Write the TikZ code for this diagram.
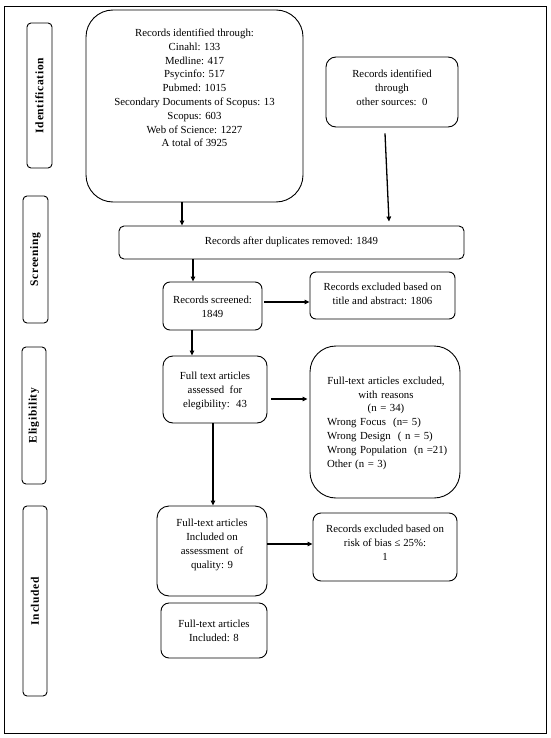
\documentclass[tikz,border=0pt]{standalone}
\usepackage{fontspec}
\setmainfont{Liberation Serif}
\usetikzlibrary{arrows.meta,calc}
\begin{document}
\begin{tikzpicture}[x=1pt,y=-1pt,
  box/.style={draw, line width=0.9pt, inner sep=0pt},
  txt/.style={font=\fontsize{10.8}{13.8}\selectfont, align=center, inner sep=0pt},
  arr/.style={-{Triangle[length=5pt,width=4.5pt]}, line width=1.3pt},
  side/.style={draw, line width=0.9pt, rounded corners=4pt, inner sep=0pt, rotate=90, font=\fontsize{11.5}{12}\selectfont\bfseries\addfontfeature{LetterSpace=6}}]
\useasboundingbox (0,0) rectangle (550,738);
\node[draw, line width=0.9pt, minimum width=542pt, minimum height=727pt, inner sep=0pt] (frame) at (275,369.5) {};
% side labels
\node[side, minimum width=145pt, minimum height=25pt] (sid) at (39.5,95.5) {Identification};
\node[side, minimum width=127pt, minimum height=25pt] (sscr) at (35.5,259.5) {Screening};
\node[side, minimum width=137pt, minimum height=24pt] (sel) at (34,415.5) {Eligibility};
\node[side, minimum width=190pt, minimum height=24pt] (sinc) at (35,601) {Included};
% box 1
\node[box, rounded corners=27pt, minimum width=217pt, minimum height=192pt] (b1) at (194.5,106) {};
\node[txt] (b1t) at (194.5,88) {Records identified through:\\ Cinahl: 133\\ Medline: 417\\ Psycinfo: 517\\ Pubmed: 1015\\ Secondary Documents of Scopus: 13\\ Scopus: 603\\ Web of Science: 1227\\ A total of 3925};
% box 2
\node[box, rounded corners=10pt, minimum width=132pt, minimum height=70pt] (b2) at (392,92) {};
\node[txt] (b2t) at (392,87.5) {Records identified\\ through\\ other sources:\ \ 0};
% duplicates
\node[box, rounded corners=5pt, minimum width=345pt, minimum height=33pt] (dup) at (291.5,242.5) {};
\node[txt] (dupt) at (291.5,241.5) {Records after duplicates removed: 1849};
% screened
\node[box, rounded corners=7pt, minimum width=99pt, minimum height=48pt] (scr) at (212.5,306) {};
\node[txt] (scrt) at (212.5,307) {Records screened:\\ 1849};
% excluded 1
\node[box, rounded corners=6pt, minimum width=145pt, minimum height=47pt] (ex1) at (382.5,295.5) {};
\node[txt] (ex1t) at (382.5,293.5) {Records excluded based on\\ title and abstract: 1806};
% full text
\node[box, rounded corners=10pt, minimum width=104pt, minimum height=67pt] (ft) at (215,389.5) {};
\node[txt] (ftt) at (215,391) {Full text articles\\ assessed \ for\\ elegibility: \ 43};
% excluded 2
\node[box, rounded corners=26pt, minimum width=150pt, minimum height=152pt] (ex2) at (385,422) {};
\node[font=\fontsize{10.8}{13.8}\selectfont, inner sep=0pt, text width=118pt] (ex2t) at (386,423) {\centering Full-text articles excluded,\\ with reasons\\ (n = 34)\par\raggedright \mbox{Wrong Focus \ (n= 5)}\\ \mbox{Wrong Design \ ( n = 5)}\\ \mbox{Wrong Population \ (n =21)}\\ \mbox{Other (n = 3)}\par};
% included 9
\node[box, rounded corners=12pt, minimum width=110pt, minimum height=90pt] (in9) at (212,551) {};
\node[txt] (in9t) at (212,545) {Full-text articles\\ Included on\\ assessment \ of\\ quality: 9};
% excluded 3
\node[box, rounded corners=8pt, minimum width=144pt, minimum height=68pt] (ex3) at (385,547) {};
\node[txt] (ex3t) at (385,543) {Records excluded based on\\ risk of bias ≤ 25\%:\\ 1};
% included 8
\node[box, rounded corners=8pt, minimum width=106pt, minimum height=55pt] (in8) at (214,630.5) {};
\node[txt] (in8t) at (214,631) {Full-text articles\\ Included: 8};
% arrows
\draw[arr] ([xshift=-12.5pt]b1.south) -- ([xshift=-12.5pt]b1.south |- dup.north);
\coordinate (o1) at ($(b2.south)+(-7pt,-6pt)$);
\coordinate (o2) at ($(dup.north)+(97.5pt,4pt)$);
\draw[arr] (o1) -- (o2);
\draw[arr] ([xshift=-19.5pt]scr.north |- dup.south) -- ([xshift=-19.5pt]scr.north);
\draw[arr] ([xshift=-20.5pt]scr.south) -- ([xshift=-20.5pt]scr.south |- ft.north);
\draw[arr] ([xshift=-2pt]ft.south) -- ([xshift=-2pt]ft.south |- in9.north);
\draw[arr] ([xshift=2pt,yshift=4pt]scr.east) -- ([yshift=4pt]scr.east -| ex1.west);
\draw[arr] ([xshift=4pt,yshift=-9.5pt]ft.east) -- ([xshift=-2pt,yshift=-9.5pt]ft.east -| ex2.west);
\draw[arr] ([yshift=7pt]in9.east) -- ([yshift=7pt]in9.east -| ex3.west);
\end{tikzpicture}
\end{document}
